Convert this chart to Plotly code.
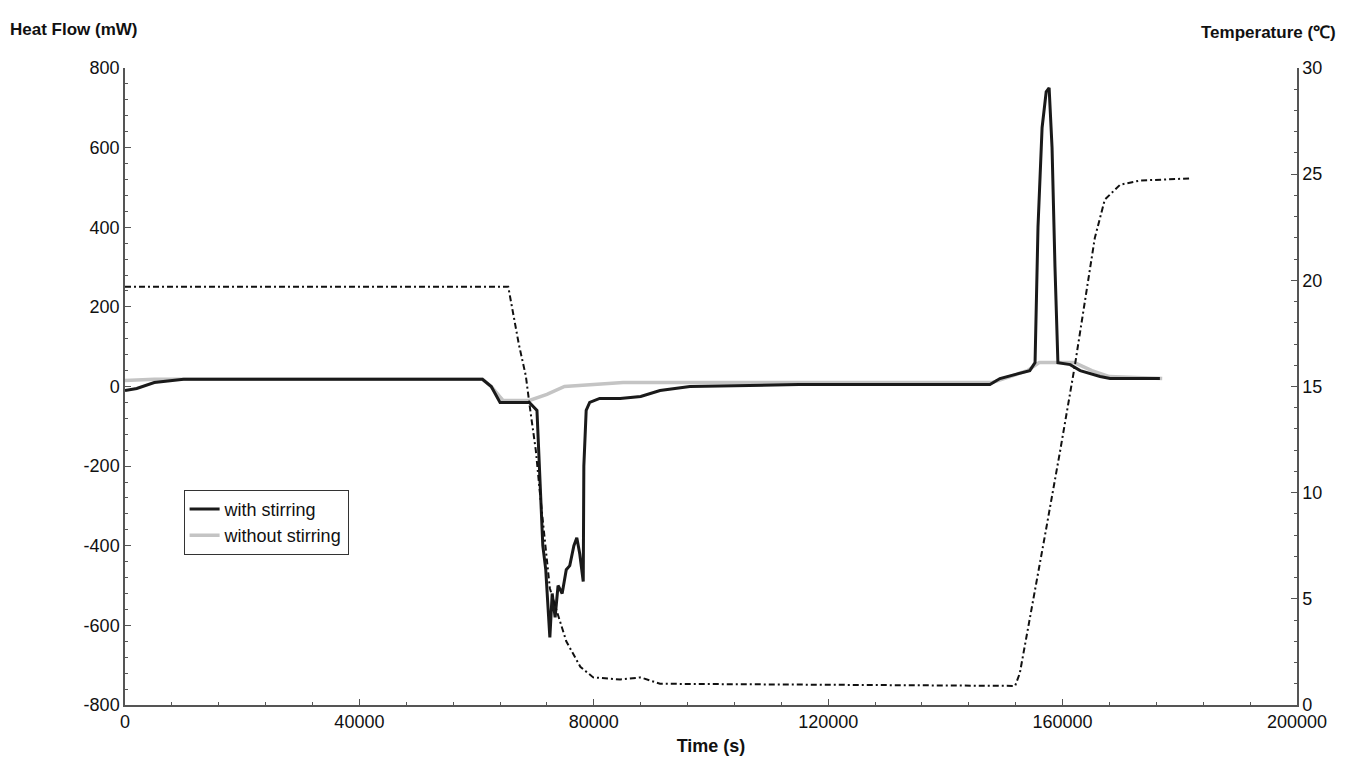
import plotly.graph_objects as go

t_with = [0,2000,5000,10000,61000,62500,64000,69000,70300,70800,71300,71800,72200,72500,72900,73400,73900,74600,75300,75900,76600,77100,77600,78200,78300,78700,79300,81000,84500,88000,91300,96400,115000,147600,149300,154400,155300,155800,156500,157200,157700,158200,158700,159200,161300,163000,166400,168100,176600]
hf_with = [-10,-5,10,18,18,0,-40,-40,-60,-250,-400,-460,-550,-630,-520,-580,-500,-520,-460,-450,-400,-380,-420,-490,-200,-60,-40,-30,-30,-25,-10,0,5,5,20,40,60,400,650,740,750,600,300,60,55,40,25,20,20]
t_without = [0,5000,61000,62500,64500,69000,72000,75000,85000,148000,150000,154000,156000,162000,165000,168000,177000]
hf_without = [15,18,18,0,-35,-35,-20,0,10,10,20,40,60,60,40,25,20]
t_temp = [0,65400,67200,68400,69100,70100,70800,71500,72500,73600,75300,77700,79900,84500,88000,91300,151900,152700,154400,157000,159600,162100,163800,165500,167200,169800,173200,181700]
temp = [19.7,19.7,17,15.5,14,12,10,8,5.5,4.5,3,1.8,1.3,1.2,1.3,1.0,0.9,1.5,4,8,12,16,19,22,23.8,24.5,24.7,24.8]

x_ticks = [0,40000,80000,120000,160000,200000]
hf_ticks = [-800,-600,-400,-200,0,200,400,600,800]
temp_ticks = [0,5,10,15,20,25,30]

fig = go.Figure()
fig.add_trace(go.Scatter(x=t_temp, y=temp, yaxis="y2", mode="lines", showlegend=False,
                         line=dict(color="#111", width=2, dash="6px,3px,2px,3px")))
fig.add_trace(go.Scatter(x=t_without, y=hf_without, mode="lines", name="without stirring",
                         line=dict(color="#c4c4c4", width=3.5)))
fig.add_trace(go.Scatter(x=t_with, y=hf_with, mode="lines", name="with stirring",
                         line=dict(color="#1a1a1a", width=3)))
font = dict(family="Liberation Sans, Arial", size=18, color="#111")
ax = dict(showgrid=False, zeroline=False, showline=True, linecolor="#555", linewidth=1.5,
          ticks="inside", ticklen=6, tickcolor="#555", tickfont=font, automargin=False)
fig.update_layout(
    width=1338, height=775, margin=dict(l=117, r=49, t=60, b=78),
    plot_bgcolor="white", paper_bgcolor="white", font=font,
    xaxis=dict(range=[0,200000], tickvals=x_ticks, ticktext=[str(v) for v in x_ticks],
               minor=dict(dtick=8000, ticks="inside", ticklen=3, tickcolor="#555"),
               title=dict(text="<b>Time (s)</b>", standoff=8, font=dict(size=18)), **ax),
    yaxis=dict(range=[-800,800], tickvals=hf_ticks, ticktext=[str(v) for v in hf_ticks],
               minor=dict(dtick=40, ticks="inside", ticklen=3, tickcolor="#555"), **ax),
    yaxis2=dict(range=[0,30], tickvals=temp_ticks, ticktext=[str(v) for v in temp_ticks],
                overlaying="y", side="right",
                minor=dict(dtick=1, ticks="inside", ticklen=3, tickcolor="#555"), **ax),
    legend=dict(x=0.05, y=0.338, xanchor="left", yanchor="top", bordercolor="#333", borderwidth=1,
                traceorder="reversed", font=dict(size=18), bgcolor="white"),
    annotations=[
        dict(text="<b>Heat Flow (mW)</b>", xref="paper", yref="paper", x=-0.1, y=1.06, xanchor="left", yanchor="middle", showarrow=False, font=dict(size=17)),
        dict(text="<b>Temperature (℃)</b>", xref="paper", yref="paper", x=1.035, y=1.055, xanchor="right", yanchor="middle", showarrow=False, font=dict(size=17)),
    ])
fig.write_html("out.html")
